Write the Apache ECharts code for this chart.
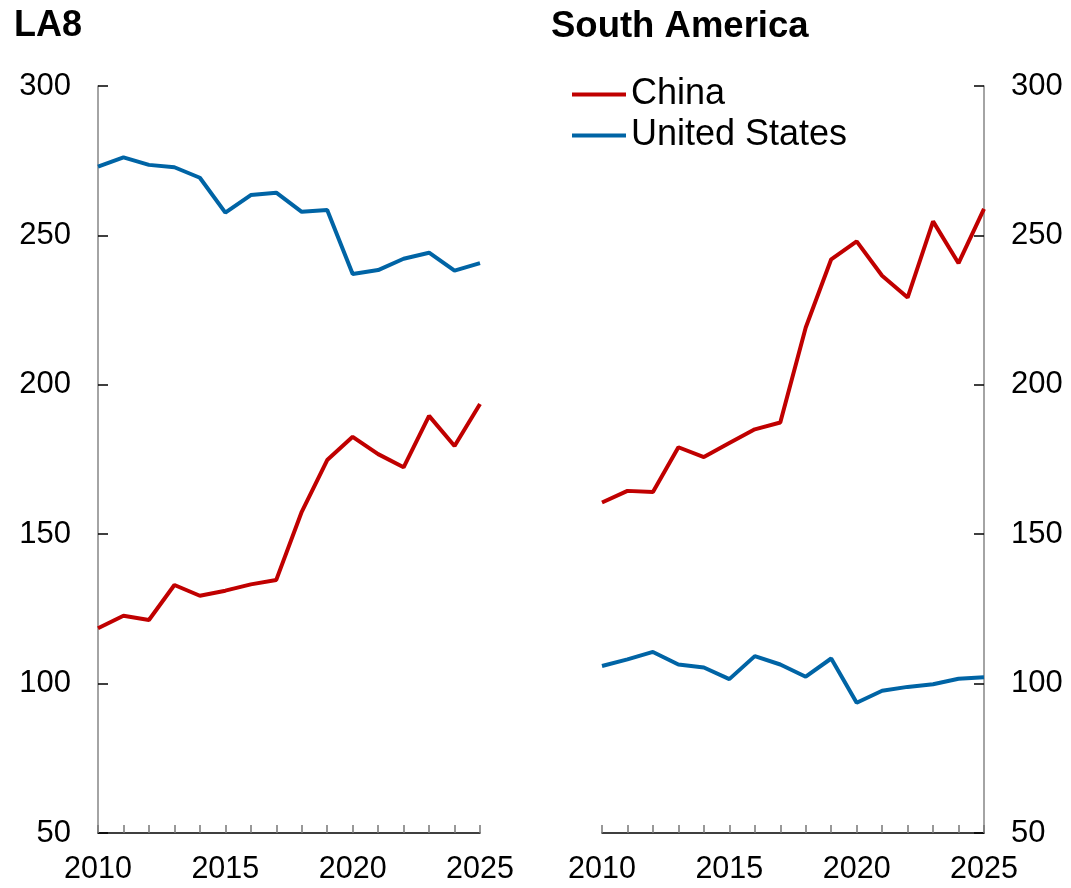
<!DOCTYPE html>
<html>
<head>
<meta charset="utf-8">
<script src="https://cdn.jsdelivr.net/npm/echarts@6/dist/echarts.min.js"></script>
<style>
html,body{margin:0;padding:0;background:#fff;}
#chart{width:1071px;height:888px;}
</style>
</head>
<body>
<div id="chart"></div>
<script>
const years = ['2010','2011','2012','2013','2014','2015','2016','2017','2018','2019','2020','2021','2022','2023','2024','2025'];
const la8China = [118.5,122.7,121.3,133.0,129.4,131.1,133.2,134.7,157.5,174.8,182.6,176.8,172.4,189.6,179.5,193.6];
const la8US = [273.0,276.1,273.6,272.8,269.3,257.6,263.5,264.3,257.9,258.5,237.1,238.4,242.2,244.2,238.2,240.7];
const saChina = [160.6,164.5,164.1,179.1,175.8,180.5,185.1,187.4,219.2,242.0,248.0,236.5,229.2,254.7,240.7,258.9];
const saUS = [105.9,108.1,110.6,106.4,105.4,101.5,109.2,106.4,102.3,108.4,93.6,97.6,98.9,99.8,101.6,102.1];
const panelTitles = ['LA8','South America'];
const seriesNames = ['China','United States'];

const RED = '#c00000', BLUE = '#0064a5';
const FONT = '"Liberation Sans", Arial, sans-serif';

function xAxisFor(i){
  return {
    type:'category', gridIndex:i, data:years, boundaryGap:false,
    axisLine:{show:true, lineStyle:{color:'#000', width:1.5}},
    axisTick:{show:true, inside:true, length:8, interval:0, lineStyle:{color:'#777', width:1.5}},
    axisLabel:{interval:4, fontSize:30.5, color:'#000', fontFamily:FONT, margin:21},
    splitLine:{show:false}
  };
}
function yAxisFor(i, pos){
  return {
    type:'value', gridIndex:i, position:pos, min:50, max:300, interval:50,
    axisLine:{show:true, onZero:false, lineStyle:{color:'#868686', width:1.5}},
    axisTick:{show:true, inside:true, length:10, lineStyle:{color:'#000', width:1.5}},
    axisLabel:{fontSize:31, color:'#000', fontFamily:FONT, margin:27},
    splitLine:{show:false}
  };
}
function line(name, data, color, idx){
  return {name:name, type:'line', data:data, xAxisIndex:idx, yAxisIndex:idx,
    symbol:'none', lineStyle:{color:color, width:4}, itemStyle:{color:color}, animation:false};
}

const chart = echarts.init(document.getElementById('chart'), null, {renderer:'canvas'});
chart.setOption({
  backgroundColor:'#fff',
  animation:false,
  title:[
    {text:panelTitles[0], left:9, top:3, textStyle:{fontSize:36, fontWeight:'bold', color:'#000', fontFamily:FONT}},
    {text:panelTitles[1], left:546, top:3, textStyle:{fontSize:36.5, fontWeight:'bold', color:'#000', fontFamily:FONT}}
  ],
  legend:{
    orient:'vertical', left:567, top:70, itemGap:2,
    data:[{name:seriesNames[0], icon:'rect'},{name:seriesNames[1], icon:'rect'}],
    itemWidth:54, itemHeight:4,
    textStyle:{fontSize:36, color:'#000', fontFamily:FONT, lineHeight:39}
  },
  grid:[
    {left:98, top:86, width:382, height:747},
    {left:602, top:86, width:382, height:747}
  ],
  xAxis:[xAxisFor(0), xAxisFor(1)],
  yAxis:[yAxisFor(0,'left'), yAxisFor(1,'right')],
  series:[
    line(seriesNames[1], la8US, BLUE, 0),
    line(seriesNames[0], la8China, RED, 0),
    line(seriesNames[0], saChina, RED, 1),
    line(seriesNames[1], saUS, BLUE, 1)
  ]
});
</script>
</body>
</html>
